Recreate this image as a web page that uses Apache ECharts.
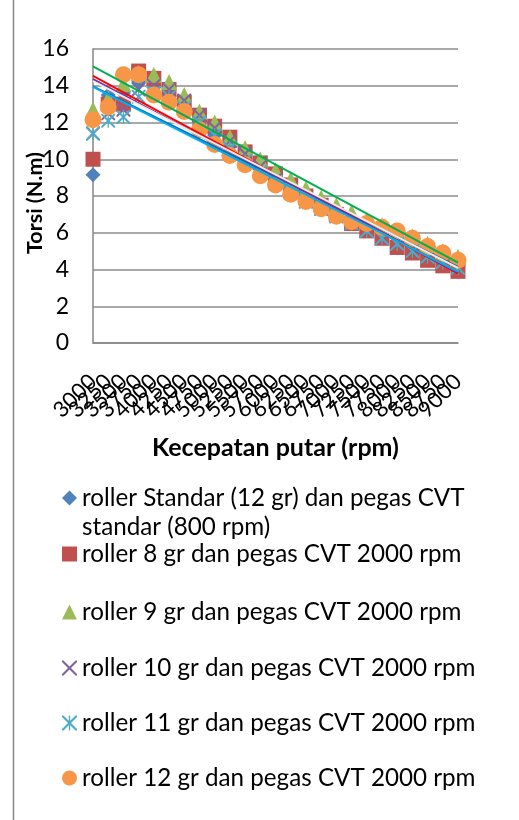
<!DOCTYPE html>
<html>
<head>
<meta charset="utf-8">
<script src="https://cdn.jsdelivr.net/npm/echarts@6/dist/echarts.min.js"></script>
<style>
  html, body { margin: 0; padding: 0; background: #fff; }
  #chart { width: 519px; height: 820px; }
</style>
</head>
<body>
<div id="chart"></div>
<script>
// kecepatan putar (rpm)
const rpm = ['3000', '3250', '3500', '3750', '4000', '4250', '4500', '4750', '5000', '5250', '5500', '5750',
  '6000', '6250', '6500', '6750', '7000', '7250', '7500', '7750', '8000', '8250', '8500', '8750', '9000'];

const seriesNames = [
  'roller Standar (12 gr) dan pegas CVT standar (800 rpm)',
  'roller 8 gr dan pegas CVT 2000 rpm',
  'roller 9 gr dan pegas CVT 2000 rpm',
  'roller 10 gr dan pegas CVT 2000 rpm',
  'roller 11 gr dan pegas CVT 2000 rpm',
  'roller 12 gr dan pegas CVT 2000 rpm'
];

// torsi (N.m)
const torsiStandar = [9.15, 13.5, 13.6, 14.2, 13.9, 13.3, 12.6, 11.9, 11.3, 10.7, 9.8, 9.2, 8.6, 8.2, 7.8, 7.4, 7.0, 6.6, 6.3, 6.0, 5.7, 5.4, 5.0, 4.7, 4.4];
const torsi8 = [10.0, 13.0, 13.0, 14.8, 14.4, 13.8, 13.1, 12.4, 11.8, 11.2, 10.4, 9.8, 9.2, 8.6, 8.0, 7.5, 7.0, 6.5, 6.1, 5.7, 5.2, 4.9, 4.5, 4.2, 3.9];
const torsi9 = [12.7, 13.3, 14.1, 14.7, 14.6, 14.2, 13.5, 12.6, 12.0, 11.2, 10.6, 10.0, 9.4, 8.9, 8.4, 7.9, 7.5, 7.1, 6.7, 6.4, 6.1, 5.8, 5.4, 5.0, 4.7];
const torsi10 = [11.4, 12.5, 12.7, 13.8, 14.0, 13.8, 13.2, 12.4, 11.7, 11.0, 10.3, 9.6, 8.9, 8.2, 7.7, 7.3, 6.9, 6.5, 6.1, 5.7, 5.4, 5.0, 4.7, 4.4, 4.1];
const torsi11 = [11.4, 12.1, 12.3, 13.4, 13.6, 13.4, 12.8, 12.0, 11.3, 10.6, 9.9, 9.3, 8.7, 8.2, 7.7, 7.3, 6.9, 6.5, 6.1, 5.7, 5.4, 5.0, 4.7, 4.4, 4.1];
const torsi12 = [12.15, 12.85, 14.6, 14.6, 13.5, 13.1, 12.6, 11.6, 10.8, 10.2, 9.7, 9.1, 8.6, 8.1, 7.7, 7.3, 6.9, 6.6, 6.5, 6.3, 6.1, 5.7, 5.25, 4.9, 4.5];

const yTicks = { min: 0, max: 16, interval: 2 };

const allData = [torsiStandar, torsi8, torsi9, torsi10, torsi11, torsi12];

const pathX = 'path://M0,0L2,0L10,8L18,0L20,0L20,2L12,10L20,18L20,20L18,20L10,12L2,20L0,20L0,18L8,10L0,2Z';
const pathStar = 'path://M0,0L2,0L10,8L18,0L20,0L20,2L12,10L20,18L20,20L18,20L10,12L2,20L0,20L0,18L8,10L0,2Z M9.1,0L10.9,0L10.9,20L9.1,20Z';

const markerColors = ['#4F81BD', '#C0504D', '#9BBB59', '#8064A2', '#4BACC6', '#F79646'];
const markerSymbols = ['diamond', 'rect', 'triangle', pathX, pathStar, 'circle'];
const markerSizes = [15, 15, 16, 14, 14, 17];
const trendColors = ['#0070C0', '#FF0000', '#00B050', '#7030A0', '#00B0F0', '#EEECE1'];

const FONT = 'Lato, "Open Sans", sans-serif';

// garis tren linear (least squares), seperti trendline Excel
function linearTrend(values) {
  const n = values.length;
  let sx = 0, sy = 0, sxx = 0, sxy = 0;
  values.forEach((v, i) => { sx += i; sy += v; sxx += i * i; sxy += i * v; });
  const b = (n * sxy - sx * sy) / (n * sxx - sx * sx);
  const a = (sy - b * sx) / n;
  return [[0, a], [n - 1, a + b * (n - 1)]];
}

const chart = echarts.init(document.getElementById('chart'));

const series = [];
allData.forEach((d, k) => {
  series.push({
    name: seriesNames[k],
    type: 'scatter',
    data: d,
    symbol: markerSymbols[k],
    symbolSize: markerSizes[k],
    itemStyle: { color: markerColors[k], opacity: 1 },
    z: 2
  });
});
allData.forEach((d, k) => {
  series.push({
    name: 'trend' + k,
    type: 'line',
    data: linearTrend(d),
    showSymbol: false,
    symbol: 'none',
    silent: true,
    lineStyle: { color: trendColors[k], width: 2 },
    z: 3
  });
});

const legendTops = [484, 540, 598, 654, 709, 764];
const legends = seriesNames.map((name, k) => ({
  data: [name],
  orient: 'vertical',
  left: 62,
  top: legendTops[k],
  padding: 0,
  itemWidth: 15,
  itemHeight: 15,
  selectedMode: false,
  formatter: k === 0 ? () => 'roller Standar (12 gr) dan pegas CVT' : '{name}',
  textStyle: { fontSize: 24.2, color: '#000', fontFamily: FONT, lineHeight: 28 }
}));

const option = {
  animation: false,
  backgroundColor: '#fff',
  textStyle: { fontFamily: FONT },
  grid: { left: 93, right: 61, top: 49, bottom: 477 },
  legend: legends,
  xAxis: {
    type: 'category',
    data: rpm,
    boundaryGap: false,
    name: 'Kecepatan putar (rpm)',
    nameLocation: 'middle',
    nameGap: 92,
    nameMoveOverlap: false,
    nameTextStyle: { fontSize: 25, fontWeight: 'bold', color: '#000', fontFamily: FONT },
    axisLine: { lineStyle: { color: '#868686', width: 1.5 } },
    axisTick: { show: false },
    axisLabel: { interval: 0, rotate: 45, fontSize: 22, color: '#000', margin: 35, fontFamily: FONT },
    splitLine: { show: false }
  },
  yAxis: {
    type: 'value',
    min: yTicks.min,
    max: yTicks.max,
    interval: yTicks.interval,
    name: 'Torsi (N.m)',
    nameLocation: 'middle',
    nameGap: 47,
    nameMoveOverlap: false,
    nameTextStyle: { fontSize: 21.5, fontWeight: 'bold', color: '#000', fontFamily: FONT, padding: [0, 14, 0, 0] },
    axisLine: { show: true, lineStyle: { color: '#868686', width: 1.5 } },
    axisTick: { show: false },
    axisLabel: { fontSize: 23, color: '#000', margin: 24, fontFamily: FONT },
    splitLine: { lineStyle: { color: '#8c8c8c', width: 1.5 } }
  },
  graphic: [
    {
      type: 'text',
      left: 82,
      top: 515,
      style: { text: 'standar (800 rpm)', fontSize: 24.2, fill: '#000', fontFamily: FONT }
    },
    {
      type: 'line',
      shape: { x1: 13.5, y1: 0, x2: 13.5, y2: 820 },
      style: { stroke: '#868686', lineWidth: 1.5 }
    }
  ],
  series: series
};

chart.setOption(option);
</script>
</body>
</html>
